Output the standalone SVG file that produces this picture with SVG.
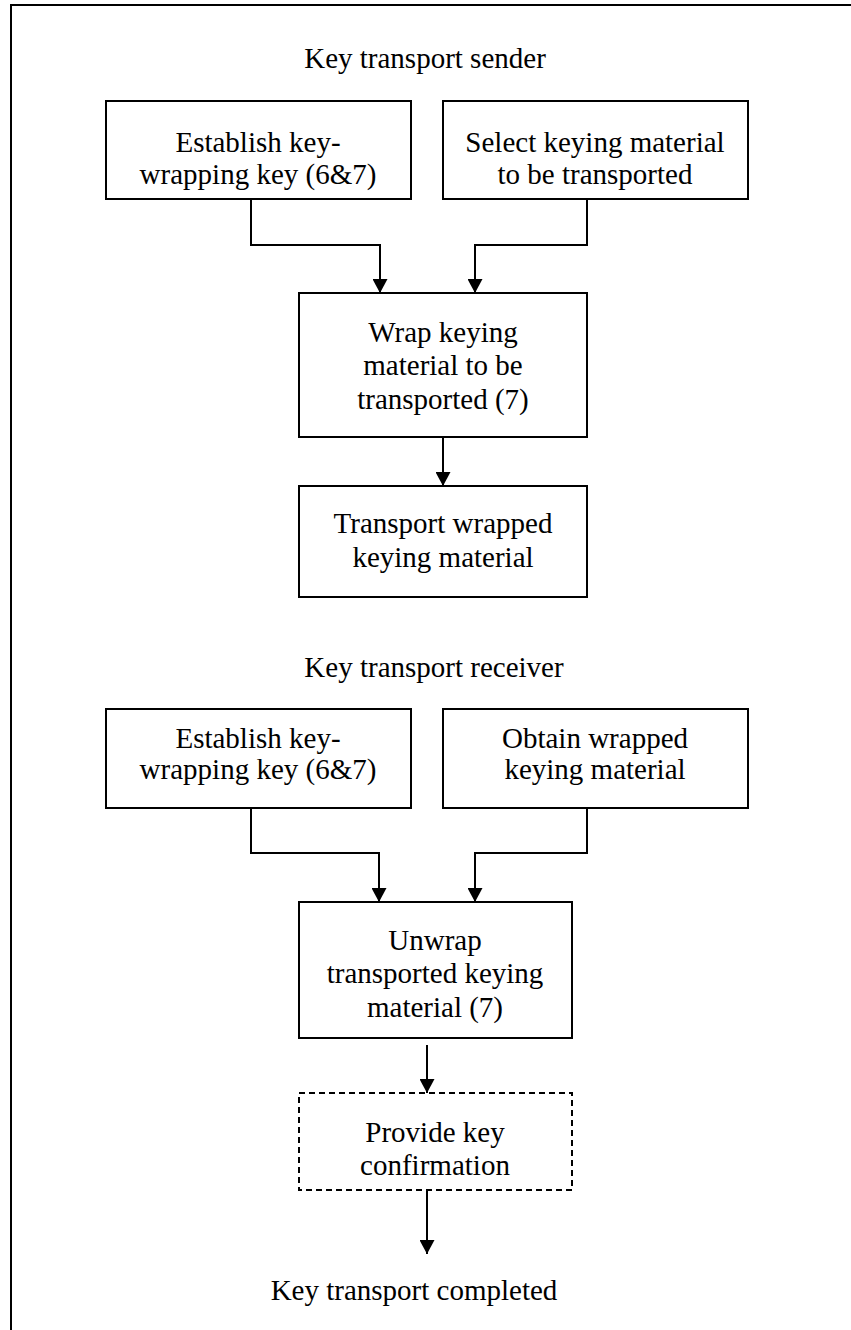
<svg xmlns="http://www.w3.org/2000/svg" width="851" height="1330" viewBox="0 0 851 1330">
<style>
text{font-family:"Liberation Serif","Times New Roman",serif;font-size:29px;fill:#000;text-anchor:middle}
.box{fill:#fff;stroke:#000;stroke-width:2}
.dash{fill:#fff;stroke:#000;stroke-width:2;stroke-dasharray:6 4}
.con{fill:none;stroke:#000;stroke-width:2}
</style>
<defs>
<marker id="ah" markerWidth="15" markerHeight="15" refX="14" refY="7.5" orient="auto" markerUnits="userSpaceOnUse">
<path d="M0,0 L14,7.5 L0,15 Z" fill="#000"/>
</marker>
</defs>
<rect width="851" height="1330" fill="#fff"/>
<path d="M11,1330 V5 H851" fill="none" stroke="#000" stroke-width="2"/>
<g id="label-sender"><text x="425" y="68">Key transport sender</text></g>
<g id="n1"><rect class="box" x="106" y="101" width="305" height="98"/>
<text x="258" y="152">Establish key-</text><text x="258" y="184">wrapping key (6&amp;7)</text></g>
<g id="n2"><rect class="box" x="443" y="101" width="305" height="98"/>
<text x="595" y="152">Select keying material</text><text x="595" y="184">to be transported</text></g>
<g id="n3"><rect class="box" x="299" y="293" width="288" height="144"/>
<text x="443" y="342">Wrap keying</text><text x="443" y="375">material to be</text><text x="443" y="409">transported (7)</text></g>
<g id="n4"><rect class="box" x="299" y="486" width="288" height="111"/>
<text x="443" y="533">Transport wrapped</text><text x="443" y="567">keying material</text></g>
<g id="label-receiver"><text x="434" y="677">Key transport receiver</text></g>
<g id="n5"><rect class="box" x="106" y="709" width="305" height="99"/>
<text x="258" y="748">Establish key-</text><text x="258" y="779">wrapping key (6&amp;7)</text></g>
<g id="n6"><rect class="box" x="443" y="709" width="305" height="99"/>
<text x="595" y="748">Obtain wrapped</text><text x="595" y="779">keying material</text></g>
<g id="n7"><rect class="box" x="299" y="902" width="273" height="136"/>
<text x="435" y="950">Unwrap</text><text x="435" y="983">transported keying</text><text x="435" y="1017">material (7)</text></g>
<g id="n8"><rect class="dash" x="299" y="1093" width="273" height="97"/>
<text x="435" y="1142">Provide key</text><text x="435" y="1175">confirmation</text></g>
<g id="label-done"><text x="414" y="1300">Key transport completed</text></g>
<g id="connectors">
<path class="con" d="M251,199 V245 H380 V293" marker-end="url(#ah)"/>
<path class="con" d="M587,199 V245 H475 V293" marker-end="url(#ah)"/>
<path class="con" d="M443,437 V486" marker-end="url(#ah)"/>
<path class="con" d="M251,808 V853 H379 V902" marker-end="url(#ah)"/>
<path class="con" d="M587,808 V853 H475 V902" marker-end="url(#ah)"/>
<path class="con" d="M427,1045 V1093" marker-end="url(#ah)"/>
<path class="con" d="M427,1190 V1254" marker-end="url(#ah)"/>
</g>
</svg>
